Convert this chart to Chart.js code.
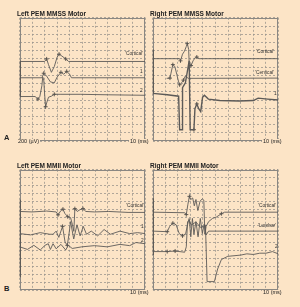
<!DOCTYPE html>
<html>
<head>
<meta charset="utf-8">
<script src="https://cdn.jsdelivr.net/npm/chart.js@4"></script>
<style>
  body { margin: 0; width: 300px; height: 307px; background: #fce4c6; position: relative; overflow: hidden;
         font-family: "Liberation Sans", Arial, sans-serif; color: #222; }
  canvas { position: absolute; }
  .txt { position: absolute; white-space: nowrap; line-height: 1; z-index: 2; }
  .title { font-weight: bold; font-size: 6.5px; background: #fce4c6; padding-right: 2px; }
  .big { font-weight: bold; font-size: 7.5px; }
  .axis { font-size: 5.5px; background: #fce4c6; padding: 0 1px; }
  .tag { font-size: 4.8px; color: #333; }
</style>
</head>
<body>
<canvas id="aLeft"></canvas>
<canvas id="aRight"></canvas>
<canvas id="bLeft"></canvas>
<canvas id="bRight"></canvas>

<div class="txt title" style="left:17px;top:10.5px">Left PEM MMSS Motor</div>
<div class="txt title" style="left:150px;top:10.5px">Right PEM MMSS Motor</div>
<div class="txt title" style="left:17px;top:162.5px">Left PEM MMII Motor</div>
<div class="txt title" style="left:150px;top:162.5px">Right PEM MMII Motor</div>

<div class="txt big" style="left:4px;top:134px">A</div>
<div class="txt big" style="left:4px;top:285px">B</div>

<div class="txt axis" style="left:17px;top:139px">200 (µV)</div>
<div class="txt axis" style="left:129px;top:139px">10 (ms)</div>
<div class="txt axis" style="left:262px;top:139px">10 (ms)</div>
<div class="txt axis" style="left:129px;top:290px">10 (ms)</div>
<div class="txt axis" style="left:262px;top:290px">10 (ms)</div>

<div class="txt tag" style="left:125px;top:52px">'Cortical'</div>
<div class="txt tag" style="left:140px;top:70px">1</div>
<div class="txt tag" style="left:140px;top:89px">2</div>
<div class="txt tag" style="left:256px;top:50px">'Cortical'</div>
<div class="txt tag" style="left:255px;top:71px">'Cervical'</div>
<div class="txt tag" style="left:274px;top:92px">1</div>
<div class="txt tag" style="left:126px;top:204px">'Cortical'</div>
<div class="txt tag" style="left:141px;top:225px">1</div>
<div class="txt tag" style="left:141px;top:239px">2</div>
<div class="txt tag" style="left:258px;top:204px">'Cortical'</div>
<div class="txt tag" style="left:258px;top:224px">'Lumbar'</div>
<div class="txt tag" style="left:275px;top:245px">2</div>

<script>
// x = divisions (10 ms each), y = divisions from the top of the panel
const xDivs = 10;
const yDivs = 15;

// ---- A: left MMSS ----
const aLeftCortical = [[0,5.31],[1.98,5.31],[2.14,5.0],[2.29,5.7],[2.52,6.63],[2.75,5.93],[2.98,4.77],
  [3.13,4.42],[3.36,4.65],[3.66,5.0],[3.89,5.31],[10,5.31]];
const aLeftOne = [[0,7.29],[1.76,7.29],[1.91,6.74],[2.14,7.09],[2.44,7.79],[2.75,7.91],[2.98,7.2],
  [3.28,6.63],[3.51,6.86],[3.74,6.51],[3.97,6.86],[4.12,7.29],[10,7.29]];
const aLeftTwo = [[0,9.57],[1.22,9.57],[1.45,9.88],[1.6,9.55],[1.76,8.26],[1.83,7.21],[1.91,7.56],
  [1.98,9.3],[2.06,10.81],[2.14,10.35],[2.29,9.65],[2.52,9.53],[2.75,9.3],[3.28,9.3],[4.81,9.3],
  [7.1,9.36],[10,9.42]];
const aLeftMarks = [[2.14,5.0],[3.13,4.42],[3.66,5.0],[1.91,6.74],[3.28,6.63],[3.74,6.51],
  [1.45,9.88],[2.06,10.81],[2.75,9.3]];
const aLeftCalib = [[0,5.23],[0,9.65]];

// ---- A: right MMSS ----
const aRightCortical = [[0,4.97],[2.14,4.97],[2.21,5.23],[2.37,4.42],[2.52,4.07],[2.67,3.49],[2.75,3.14],
  [2.86,3.84],[2.9,5.47],[3.05,5.81],[3.21,5.23],[3.36,4.9],[3.51,4.77],[3.66,4.97],[10,4.97]];
const aRightCervical = [[1.1,7.36],[1.37,7.33],[1.45,6.74],[1.6,5.69],[1.76,5.93],[1.91,6.86],[2.06,7.79],
  [2.14,8.14],[2.29,7.91],[2.44,7.57],[2.6,7.07],[2.82,7.36],[10,7.33]];
const aRightOne = [[0,9.19],[1.15,9.36],[2.06,9.53],[2.14,13.6],[2.33,13.6],[2.37,8.49],[2.6,7.91],
  [2.9,5.23],[2.98,13.6],[3.28,13.6],[3.36,11.05],[3.51,10.47],[3.66,11.05],[3.82,11.4],[3.97,9.65],
  [4.12,9.42],[4.43,9.88],[5.34,10.06],[6.87,10.12],[8.02,10.06],[8.4,9.77],[9.16,9.88],[10,10.0]];
const aRightMarks = [[2.21,5.23],[2.75,3.14],[3.05,5.81],[3.51,4.77],[1.37,7.33],[1.6,5.69],
  [2.14,8.14],[2.44,7.57],[3.28,13.6],[3.51,10.47]];
const aRightCalib = [[0,3.84],[0,9.3]];

// ---- B: left MMII ----
const bLeftCortical = [[0,5.19],[0.99,5.25],[2.14,5.14],[2.9,5.25],[3.05,5.61],[3.28,5.08],[3.44,4.9],
  [3.59,5.43],[3.82,5.84],[4.05,5.96],[4.2,6.85],[4.31,7.67],[4.39,4.84],[4.58,5.19],[4.81,4.96],
  [5.04,4.84],[5.27,5.19],[5.95,5.25],[7.1,5.19],[8.63,5.31],[10,5.31]];
const bLeftOne = [[0,7.95],[0.86,8.11],[1.63,7.83],[2.39,8.03],[2.65,8.03],[2.9,7.64],[3.11,8.42],
  [3.41,7.05],[3.61,9.01],[3.79,9.41],[3.92,8.03],[4.05,6.46],[4.3,8.62],[4.56,6.85],[4.81,8.23],
  [5.06,7.05],[5.32,8.03],[5.7,7.64],[6.21,8.23],[6.72,7.44],[7.23,8.03],[7.99,7.64],[8.76,7.95],
  [9.39,7.83],[10,7.95]];
const bLeftTwo = [[0,9.6],[0.61,9.92],[1.12,9.41],[1.63,9.99],[2.01,9.41],[2.27,9.21],[2.44,9.92],
  [2.65,9.21],[2.9,9.84],[3.28,9.29],[3.66,9.99],[3.87,9.41],[4.18,9.8],[4.94,9.6],[5.95,9.45],
  [6.97,9.6],[7.99,9.29],[8.76,9.45],[9.26,9.06],[10,9.21]];
const bLeftMarks = [[3.05,5.61],[3.44,4.9],[3.82,5.84],[4.39,4.84],[5.04,4.84],[3.41,7.05],[3.79,9.41]];
const bLeftCalib = [[0,3.74],[0,13.4]];

// ---- B: right MMII ----
const bRightCortical = [[0,5.28],[2.54,5.35],[2.67,5.58],[2.8,4.29],[2.92,3.31],[3.03,3.7],[3.18,3.51],
  [3.31,4.49],[3.44,3.7],[3.59,5.08],[3.77,3.9],[3.95,3.62],[4.07,3.78],[4.15,8.03],[4.25,7.05],
  [4.45,6.46],[4.76,6.06],[5.09,5.87],[5.47,5.47],[5.73,5.28],[10,5.28]];
const bRightLumbar = [[0,7.64],[1.15,7.71],[1.35,7.05],[1.6,6.65],[1.86,6.85],[2.11,7.95],[2.37,8.23],
  [2.62,7.95],[2.77,6.85],[2.9,6.06],[3.03,8.35],[3.16,6.06],[3.28,8.03],[3.44,6.46],[3.61,8.35],
  [3.79,6.06],[3.95,7.95],[4.1,6.77],[4.25,8.11],[4.45,7.64],[10,7.64]];
const bRightTwo = [[0,10.19],[1.15,10.19],[1.78,10.12],[2.54,10.27],[2.67,9.6],[2.77,6.46],[2.92,6.26],
  [3.05,6.9],[3.44,6.5],[3.82,7.2],[4.2,6.9],[4.33,13.93],[4.91,13.93],[5.17,12.36],[5.47,11.18],
  [5.98,10.78],[7.0,10.63],[7.5,10.47],[8.02,10.55],[8.53,10.39],[9.03,10.39],[9.54,10.19],[10,10.47]];
const bRightMarks = [[2.67,5.58],[2.92,3.31],[5.47,5.47],[1.15,7.71],[1.6,6.65],[2.37,8.23],
  [1.15,10.19],[1.78,10.12]];
const bRightCalib = [[0,3.54],[0,10.6]];

const panels = [
  { id: 'aLeft',  left: 17,  top: 15,  w: 131, h: 129, traces: [aLeftCortical, aLeftOne, aLeftTwo], marks: aLeftMarks, calib: aLeftCalib },
  { id: 'aRight', left: 150, top: 15,  w: 131, h: 129, traces: [aRightCortical, aRightCervical, aRightOne], marks: aRightMarks, calib: aRightCalib, heavy: 2 },
  { id: 'bLeft',  left: 17,  top: 167, w: 131, h: 126, traces: [bLeftCortical, bLeftOne, bLeftTwo], marks: bLeftMarks, calib: bLeftCalib },
  { id: 'bRight', left: 150, top: 167, w: 131, h: 126, traces: [bRightCortical, bRightLumbar, bRightTwo], marks: bRightMarks, calib: bRightCalib },
];

const toXY = pts => pts.map(([x, y]) => ({ x, y }));
const PAD = 2;

// frame round the plot area
const framePlugin = {
  id: 'frame',
  beforeDatasetsDraw(chart) {
    const { ctx, chartArea: a } = chart;
    ctx.save();
    ctx.strokeStyle = '#8a8782';
    ctx.lineWidth = 1;
    ctx.strokeRect(Math.round(a.left) + 0.5, Math.round(a.top) + 0.5,
      Math.round(a.right - a.left) - 1, Math.round(a.bottom - a.top) - 1);
    ctx.restore();
  }
};

panels.forEach(p => {
  const canvas = document.getElementById(p.id);
  canvas.style.left = (p.left - PAD) + 'px';
  canvas.style.top = (p.top - PAD) + 'px';
  canvas.width = p.w + PAD * 2;
  canvas.height = p.h + PAD * 2;

  const datasets = p.traces.map((t, i) => ({
    data: toXY(t),
    showLine: true,
    borderColor: '#5c5a58',
    borderWidth: p.heavy === i ? 1.4 : 0.9,
    pointRadius: 0,
    tension: 0
  }));
  datasets.push({
    data: toXY(p.calib),
    showLine: true,
    borderColor: '#4a4846',
    borderWidth: 1.8,
    pointRadius: 0
  });
  datasets.push({
    data: toXY(p.marks),
    showLine: false,
    pointStyle: 'cross',
    pointRadius: 2,
    borderColor: '#3a3836',
    borderWidth: 0.8
  });

  new Chart(canvas, {
    type: 'scatter',
    data: { datasets },
    options: {
      responsive: false,
      animation: false,
      events: [],
      layout: { padding: PAD },
      plugins: { legend: { display: false }, tooltip: { enabled: false } },
      scales: {
        x: {
          type: 'linear', min: 0, max: xDivs,
          ticks: { display: false, stepSize: 1 },
          grid: { color: '#9c968e', lineWidth: 0.8, drawTicks: false },
          border: { display: false, dash: [2, 2] }
        },
        y: {
          type: 'linear', min: 0, max: yDivs, reverse: true,
          ticks: { display: false, stepSize: 1 },
          grid: { color: '#9c968e', lineWidth: 0.8, drawTicks: false },
          border: { display: false, dash: [2, 2] }
        }
      }
    },
    plugins: [framePlugin]
  });
});
</script>
</body>
</html>
